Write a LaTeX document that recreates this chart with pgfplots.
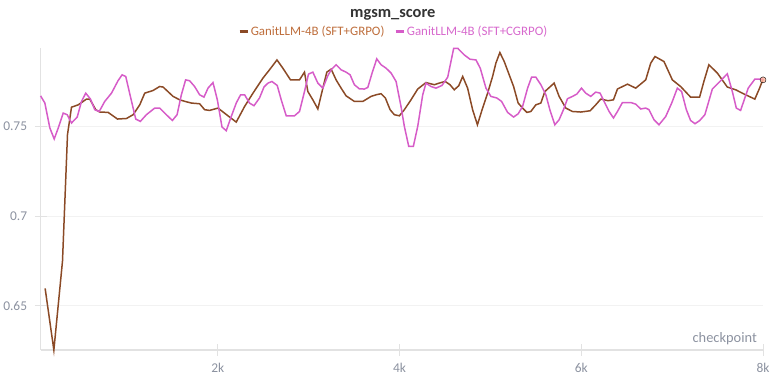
\documentclass[border=0pt]{standalone}
\usepackage{fontspec}
\setmainfont{Carlito}
\usepackage{pgfplots}
\usepackage{pgfplotstable}
\pgfplotsset{compat=1.18}

\definecolor{brownline}{RGB}{139,74,38}
\definecolor{pinkline}{RGB}{214,92,200}
\definecolor{brownlbl}{RGB}{190,110,60}
\definecolor{pinklbl}{RGB}{215,105,205}
\definecolor{ticklbl}{RGB}{140,146,160}
\definecolor{axisgray}{RGB}{226,226,226}
\definecolor{gridgray}{RGB}{242,242,242}
\definecolor{titlegray}{RGB}{51,51,51}

% GanitLLM-4B (SFT+GRPO)
\pgfplotstableread{
x y
100 0.6597
196 0.6254
291 0.6749
346 0.7453
390 0.7606
464 0.7619
555 0.7651
591 0.7651
657 0.7592
701 0.7579
793 0.7577
896 0.7540
995 0.7543
1068 0.7564
1141 0.7619
1196 0.7684
1288 0.7699
1360 0.7721
1398 0.7718
1508 0.7666
1580 0.7647
1654 0.7636
1709 0.7629
1800 0.7625
1855 0.7592
1910 0.7588
2002 0.7601
2112 0.7558
2203 0.7523
2295 0.7610
2387 0.7684
2497 0.7768
2569 0.7814
2651 0.7869
2716 0.7823
2800 0.7758
2899 0.7758
2954 0.7801
2991 0.7693
3046 0.7647
3101 0.7596
3156 0.7712
3200 0.7801
3247 0.7818
3302 0.7758
3357 0.7712
3412 0.7669
3503 0.7638
3596 0.7638
3687 0.7666
3742 0.7675
3797 0.7681
3844 0.7657
3896 0.7592
3943 0.7564
3998 0.7558
4053 0.7592
4126 0.7647
4200 0.7707
4291 0.7743
4382 0.7731
4456 0.7743
4503 0.7749
4555 0.7731
4602 0.7703
4651 0.7725
4695 0.7777
4749 0.7712
4804 0.7592
4857 0.7508
4914 0.7601
4969 0.7684
5024 0.7777
5060 0.7851
5104 0.7910
5152 0.7860
5207 0.7786
5255 0.7721
5305 0.7629
5354 0.7601
5401 0.7577
5445 0.7582
5500 0.7619
5555 0.7629
5599 0.7693
5701 0.7740
5756 0.7666
5830 0.7601
5903 0.7582
5995 0.7579
6097 0.7586
6159 0.7619
6214 0.7651
6295 0.7642
6354 0.7647
6398 0.7707
6434 0.7716
6508 0.7734
6599 0.7712
6709 0.7758
6764 0.7851
6811 0.7888
6910 0.7860
7002 0.7758
7093 0.7721
7203 0.7662
7302 0.7662
7349 0.7749
7404 0.7842
7497 0.7796
7607 0.7718
7698 0.7703
7808 0.7675
7910 0.7651
7962 0.7712
8000 0.7762
}\grpo

% GanitLLM-4B (SFT+CGRPO)
\pgfplotstableread{
x y
50 0.7669
97 0.7629
152 0.7490
200 0.7429
244 0.7490
299 0.7573
343 0.7564
390 0.7518
453 0.7551
500 0.7638
547 0.7684
599 0.7651
646 0.7592
695 0.7582
756 0.7638
830 0.7684
903 0.7754
947 0.7786
987 0.7777
1038 0.7666
1097 0.7540
1148 0.7527
1214 0.7564
1306 0.7601
1360 0.7601
1434 0.7564
1500 0.7532
1552 0.7564
1599 0.7675
1646 0.7758
1690 0.7753
1745 0.7721
1800 0.7675
1848 0.7662
1892 0.7712
1947 0.7743
1995 0.7647
2046 0.7496
2093 0.7475
2148 0.7554
2203 0.7629
2251 0.7675
2295 0.7675
2349 0.7629
2398 0.7614
2459 0.7657
2508 0.7718
2552 0.7740
2596 0.7749
2654 0.7727
2698 0.7647
2753 0.7558
2844 0.7558
2899 0.7582
2954 0.7693
2998 0.7790
3046 0.7801
3101 0.7740
3156 0.7712
3211 0.7781
3247 0.7814
3302 0.7842
3357 0.7814
3412 0.7801
3456 0.7786
3503 0.7731
3558 0.7708
3613 0.7707
3651 0.7716
3698 0.7796
3749 0.7875
3797 0.7842
3852 0.7823
3907 0.7796
3962 0.7749
4016 0.7610
4053 0.7499
4101 0.7388
4152 0.7388
4200 0.7499
4255 0.7675
4291 0.7740
4346 0.7721
4401 0.7712
4467 0.7727
4530 0.7773
4596 0.7934
4640 0.7934
4712 0.7897
4775 0.7873
4841 0.7869
4888 0.7823
4951 0.7712
5005 0.7666
5071 0.7657
5123 0.7638
5189 0.7577
5255 0.7551
5305 0.7569
5354 0.7610
5409 0.7712
5453 0.7773
5500 0.7773
5555 0.7731
5610 0.7675
5654 0.7592
5709 0.7508
5756 0.7536
5804 0.7592
5848 0.7653
5903 0.7666
5951 0.7679
6002 0.7712
6049 0.7684
6104 0.7666
6159 0.7690
6207 0.7684
6251 0.7638
6306 0.7582
6354 0.7546
6398 0.7582
6453 0.7632
6544 0.7632
6599 0.7623
6654 0.7596
6709 0.7601
6745 0.7592
6800 0.7536
6855 0.7508
6929 0.7554
6995 0.7629
7057 0.7712
7104 0.7693
7156 0.7592
7203 0.7532
7251 0.7514
7302 0.7531
7360 0.7564
7442 0.7707
7514 0.7743
7607 0.7792
7662 0.7693
7706 0.7601
7753 0.7588
7837 0.7712
7910 0.7762
7991 0.7762
8000 0.7758
}\cgrpo

\begin{document}
\begin{tikzpicture}
\begin{axis}[
    width=724bp, height=303bp, scale only axis,
    at={(0,0)}, anchor=south west,
    xmin=50, xmax=8000,
    ymin=0.6253, ymax=0.7936,
    axis x line*=bottom, axis y line*=left,
    axis line style={-, draw=axisgray, line width=1.5bp},
    xtick={2000,4000,6000,8000},
    xticklabels={2k,4k,6k,8k},
    ytick={0.65,0.7,0.75},
    yticklabels={0.65,0.7,0.75},
    tick align=center,
    major tick length=12bp,
    tick style={draw=axisgray, line width=1bp},
    ymajorgrids=true,
    grid style={draw=gridgray, line width=1bp},
    ticklabel style={font=\fontsize{13.5}{14}\selectfont, text=ticklbl},
    yticklabel style={xshift=-4bp},
    xticklabel style={yshift=-3bp},
    xlabel={checkpoint},
    xlabel style={at={(rel axis cs:1,0)}, anchor=south east, inner sep=0pt,
        xshift=-6bp, yshift=5bp, font=\fontsize{14.5}{15}\selectfont, text=ticklbl},
    title={mgsm\_score},
    title style={at={(rel axis cs:0.5,1)}, anchor=center, xshift=-9bp, yshift=27bp,
        font=\fontsize{16.5}{17}\selectfont\bfseries, text=titlegray},
    legend columns=2,
    legend style={draw=none, fill=none, at={(rel axis cs:0.5,1)}, anchor=center,
        xshift=-8bp, yshift=16.5bp, font=\fontsize{13}{13}\selectfont,
        /tikz/every even column/.append style={column sep=8bp}},
    legend image code/.code={\draw[#1, line width=2.5bp] (0bp,0bp) -- (8bp,0bp);},
    clip=false,
]
\addplot[color=brownline, line width=1.5bp] table {\grpo};
\addlegendentry[text=brownlbl]{GanitLLM-4B (SFT+GRPO)}
\addplot[color=pinkline, line width=1.5bp] table {\cgrpo};
\addlegendentry[text=pinklbl]{GanitLLM-4B (SFT+CGRPO)}
\addplot[forget plot, only marks, mark=*, mark size=3bp,
    mark options={draw=none, fill=pink!80!orange, fill opacity=0.8}]
    coordinates {(8000,0.7758)};
\end{axis}
\path[use as bounding box] (-39bp,-27bp) rectangle (740bp,351bp);
\end{tikzpicture}
\end{document}
